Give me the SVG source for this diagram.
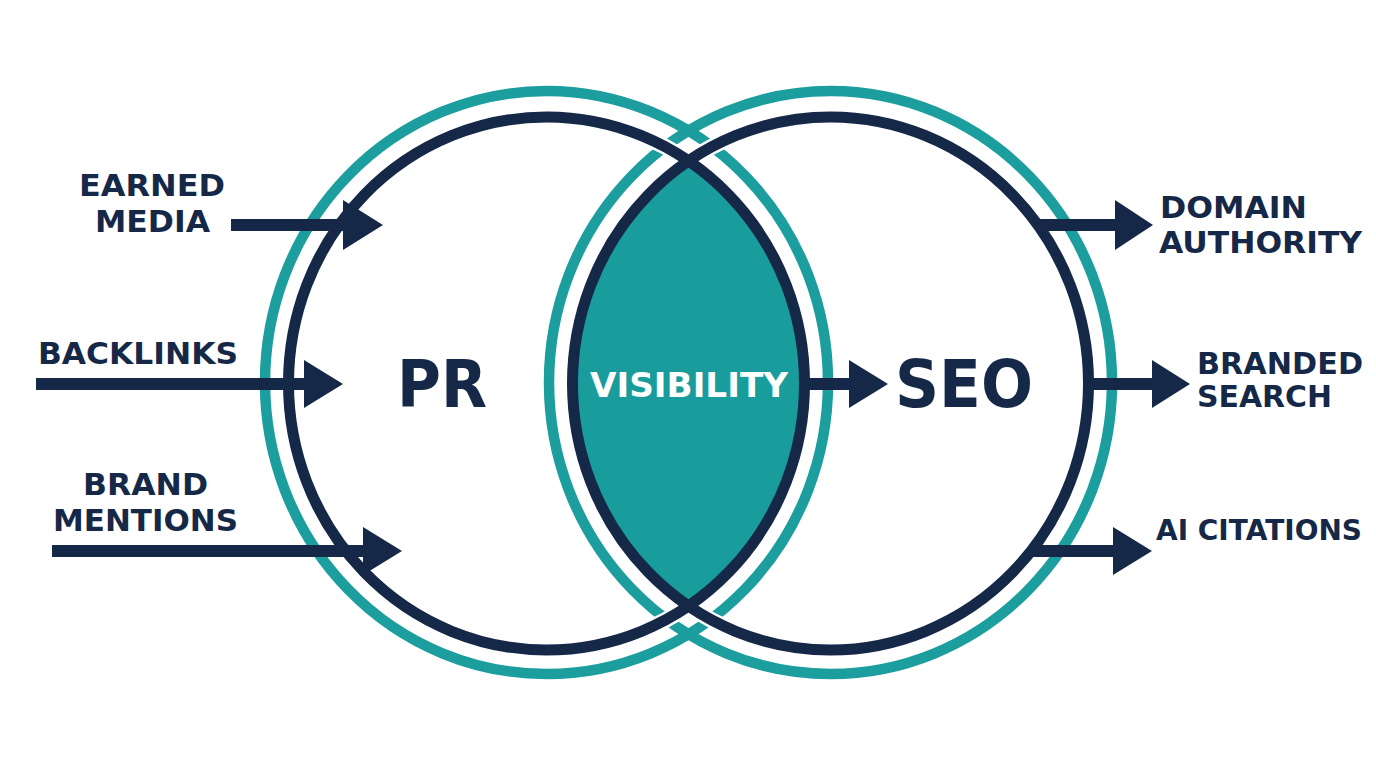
<svg xmlns="http://www.w3.org/2000/svg" width="1376" height="768" viewBox="0 0 1376 768">
  <style>
    .teal { fill: none; stroke: #1c9e9e; stroke-width: 10.5; }
    .halo { fill: none; stroke: #ffffff; stroke-width: 16; }
    .navy { fill: none; stroke: #152847; stroke-width: 11; }
    .lbl { font-family: "DejaVu Sans", "Liberation Sans", sans-serif; font-weight: bold; font-size: 31px; fill: #152847; }
    .big { font-family: "DejaVu Sans", "Liberation Sans", sans-serif; font-weight: bold; font-size: 65px; fill: #152847; }
    .vis { font-family: "DejaVu Sans", "Liberation Sans", sans-serif; font-weight: bold; font-size: 34px; fill: #ffffff; }
    .shaft { stroke: #152847; stroke-width: 12; fill: none; }
    .head { fill: #152847; }
  </style>
  <defs>
    <clipPath id="clipLeft">
      <ellipse cx="546.5" cy="383.5" rx="258" ry="266.5"/>
    </clipPath>
  </defs>
  <rect width="1376" height="768" fill="#ffffff"/>

  <g id="pr-circle">
    <ellipse class="teal" cx="546.5" cy="382.5" rx="281.5" ry="291.5"/>
  </g>
  <g id="seo-circle">
    <ellipse class="teal" cx="830.5" cy="382.5" rx="281.5" ry="291.5"/>
  </g>
  <g id="halos">
    <ellipse class="halo" cx="546.5" cy="383.5" rx="258" ry="266.5"/>
    <ellipse class="halo" cx="830.5" cy="383.5" rx="258" ry="266.5"/>
  </g>
  <g id="visibility">
    <ellipse cx="830.5" cy="383.5" rx="258" ry="266.5" fill="#199c9c" clip-path="url(#clipLeft)"/>
  </g>
  <g id="pr-inner">
    <ellipse class="navy" cx="546.5" cy="383.5" rx="258" ry="266.5"/>
    <text class="big" x="397" y="407" textLength="90" lengthAdjust="spacingAndGlyphs">PR</text>
  </g>
  <g id="seo-inner">
    <ellipse class="navy" cx="830.5" cy="383.5" rx="258" ry="266.5"/>
    <text class="big" x="895" y="407" textLength="138" lengthAdjust="spacingAndGlyphs">SEO</text>
  </g>
  <g id="visibility-label">
    <text class="vis" x="590" y="397" textLength="198" lengthAdjust="spacingAndGlyphs">VISIBILITY</text>
  </g>

  <g id="connectors">
    <line class="shaft" x1="231" y1="225" x2="346" y2="225"/>
    <polygon class="head" points="343,200 383,225 343,250"/>
    <line class="shaft" x1="36" y1="384" x2="307" y2="384"/>
    <polygon class="head" points="304,360 343,384 304,408"/>
    <line class="shaft" x1="52" y1="551" x2="366" y2="551"/>
    <polygon class="head" points="363,527 402,551 363,575"/>
    <line class="shaft" x1="807" y1="384" x2="852" y2="384"/>
    <polygon class="head" points="849,360 888,384 849,408"/>
    <line class="shaft" x1="1036" y1="225" x2="1118" y2="225"/>
    <polygon class="head" points="1115,200 1153,225 1115,250"/>
    <line class="shaft" x1="1088" y1="384" x2="1155" y2="384"/>
    <polygon class="head" points="1152,360 1190,384 1152,408"/>
    <line class="shaft" x1="1033" y1="551" x2="1116" y2="551"/>
    <polygon class="head" points="1113,527 1152,551 1113,575"/>
  </g>

  <g id="label-earned-media">
    <text class="lbl" x="79" y="196" textLength="146" lengthAdjust="spacingAndGlyphs">EARNED</text>
    <text class="lbl" x="95" y="232" textLength="115" lengthAdjust="spacingAndGlyphs">MEDIA</text>
  </g>
  <g id="label-backlinks">
    <text class="lbl" x="38" y="364" textLength="200" lengthAdjust="spacingAndGlyphs">BACKLINKS</text>
  </g>
  <g id="label-brand-mentions">
    <text class="lbl" x="83" y="495" textLength="125" lengthAdjust="spacingAndGlyphs">BRAND</text>
    <text class="lbl" x="53" y="531" textLength="185" lengthAdjust="spacingAndGlyphs">MENTIONS</text>
  </g>
  <g id="label-domain-authority">
    <text class="lbl" x="1160" y="218" textLength="147" lengthAdjust="spacingAndGlyphs">DOMAIN</text>
    <text class="lbl" x="1159" y="253" textLength="203" lengthAdjust="spacingAndGlyphs">AUTHORITY</text>
  </g>
  <g id="label-branded-search">
    <text class="lbl" x="1197" y="374" textLength="166" lengthAdjust="spacingAndGlyphs">BRANDED</text>
    <text class="lbl" x="1197" y="407" textLength="135" lengthAdjust="spacingAndGlyphs">SEARCH</text>
  </g>
  <g id="label-ai-citations">
    <text class="lbl" x="1156" y="540" style="font-size:28px" textLength="206" lengthAdjust="spacingAndGlyphs">AI CITATIONS</text>
  </g>
</svg>
